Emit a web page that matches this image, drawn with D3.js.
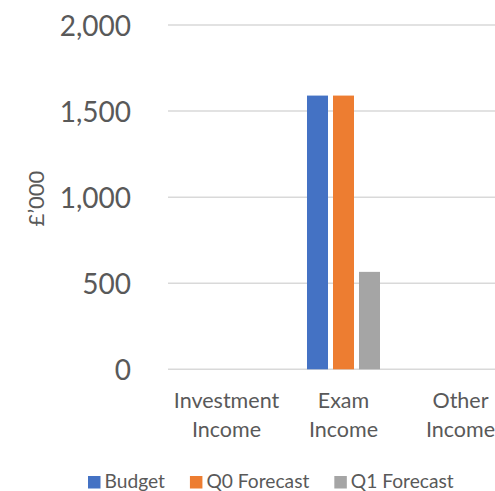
<!DOCTYPE html>
<html>
<head>
<meta charset="utf-8">
<script src="https://cdn.jsdelivr.net/npm/d3@7"></script>
<style>
  html, body { margin: 0; padding: 0; background: #fff; }
  svg { display: block; }
  text { font-family: Lato, "Open Sans", sans-serif; fill: #595959; }
</style>
</head>
<body>
<svg id="chart" width="495" height="491"></svg>
<script>
// Income lines (£'000)
const categories = ["Investment Income", "Exam Income", "Other Income"];
const seriesNames = ["Budget", "Q0 Forecast", "Q1 Forecast"];
const budget     = [0, 1590, 0];
const q0Forecast = [0, 1590, 0];
const q1Forecast = [0, 566, 0];
const yTicks = [0, 500, 1000, 1500, 2000];
const colors = ["#4472C4", "#ED7D31", "#A5A5A5"];

const seriesValues = [budget, q0Forecast, q1Forecast];

const svg = d3.select("#chart");
const W = 495, H = 491;

const plot = { left: 168, right: 519, top: 25, bottom: 369.3 };

const y = d3.scaleLinear().domain([0, 2000]).range([plot.bottom, plot.top]);
const x0 = d3.scaleBand().domain(categories).range([plot.left, plot.right]).padding(0);
const x1 = d3.scaleBand().domain(seriesNames).range([0, x0.bandwidth()])
  .paddingInner(0.1923).paddingOuter(0.846);

// gridlines
svg.append("g")
  .selectAll("line")
  .data(yTicks)
  .join("line")
  .attr("x1", plot.left)
  .attr("x2", W)
  .attr("y1", d => y(d))
  .attr("y2", d => y(d))
  .attr("stroke", "#d9d9d9")
  .attr("stroke-width", 1.5);

// y tick labels
const yAxis = d3.axisLeft(y).tickValues(yTicks).tickFormat(d3.format(",")).tickSize(0).tickPadding(0);
const yg = svg.append("g").attr("transform", "translate(131,0)").call(yAxis);
yg.select(".domain").remove();
yg.selectAll("text")
  .attr("font-family", "Lato, sans-serif")
  .attr("font-size", 28)
  .attr("fill", "#595959")
  .attr("dy", "0.36em");

// y axis title
svg.append("text")
  .attr("transform", "translate(44,198.5) rotate(-90)")
  .attr("text-anchor", "middle")
  .attr("font-size", 22)
  .text("£’000");

// bars
const groups = svg.append("g")
  .selectAll("g")
  .data(categories)
  .join("g")
  .attr("transform", d => `translate(${x0(d)},0)`);

groups.selectAll("rect")
  .data((d, i) => seriesNames.map((s, j) => ({ s, j, v: seriesValues[j][i] })))
  .join("rect")
  .attr("x", d => x1(d.s))
  .attr("width", x1.bandwidth())
  .attr("y", d => y(d.v))
  .attr("height", d => y(0) - y(d.v))
  .attr("fill", d => colors[d.j]);

// category labels (two lines)
const catG = svg.append("g");
categories.forEach(c => {
  const words = c.split(" ");
  const t = catG.append("text")
    .attr("text-anchor", "middle")
    .attr("font-size", 21.5)
    .attr("x", x0(c) + x0.bandwidth() / 2)
    .attr("y", 408);
  words.forEach((w, i) => {
    t.append("tspan")
      .attr("x", x0(c) + x0.bandwidth() / 2)
      .attr("dy", i === 0 ? 0 : 29)
      .text(w);
  });
});

// legend
const legend = svg.append("g");
let lx = 88;
seriesNames.forEach((s, i) => {
  legend.append("rect")
    .attr("x", lx).attr("y", 476)
    .attr("width", 12.5).attr("height", 12.5)
    .attr("fill", colors[i]);
  const t = legend.append("text")
    .attr("x", lx + 16.5)
    .attr("y", 488)
    .attr("font-size", 19.2)
    .text(s);
  lx += 16.5 + t.node().getComputedTextLength() + 25;
});
</script>
</body>
</html>
